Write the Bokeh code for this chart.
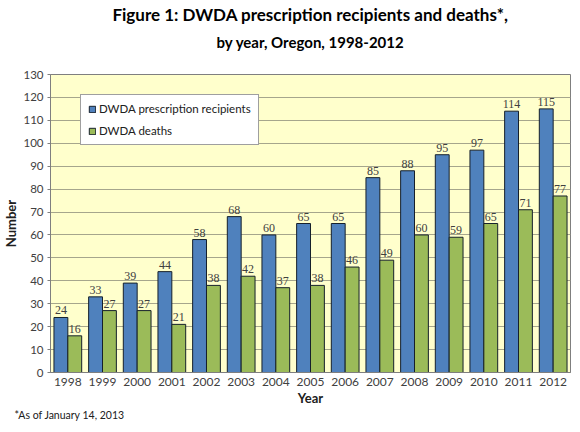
from bokeh.plotting import figure
from bokeh.models import ColumnDataSource, FactorRange, LabelSet, Legend, LegendItem, Title, FixedTicker
from bokeh.transform import dodge
from bokeh.embed import file_html
from bokeh.resources import INLINE

years = ["1998", "1999", "2000", "2001", "2002", "2003", "2004", "2005",
         "2006", "2007", "2008", "2009", "2010", "2011", "2012"]
recipients = [24, 33, 39, 44, 58, 68, 60, 65, 65, 85, 88, 95, 97, 114, 115]
deaths = [16, 27, 27, 21, 38, 42, 37, 38, 46, 49, 60, 59, 65, 71, 77]
y_ticks = list(range(0, 131, 10))

FONT = "Lato"
TXT = "#404040"

src = ColumnDataSource(dict(
    year=years, rec=recipients, dea=deaths,
    rec_lbl=[str(v) for v in recipients], dea_lbl=[str(v) for v in deaths],
))

p = figure(frame_width=520, frame_height=298, x_range=FactorRange(*years, range_padding=0),
           y_range=(0, 130), output_backend="svg", toolbar_location=None,
           min_border_left=0, min_border_right=2, min_border_top=0, min_border_bottom=0)
p.title.text = ""
p.title.visible = False

BW = 0.4
r1 = p.vbar(x=dodge("year", -BW / 2, range=p.x_range), top="rec", width=BW, source=src,
            fill_color="#4F81BD", line_color="#16202B", line_width=1)
r2 = p.vbar(x=dodge("year", BW / 2, range=p.x_range), top="dea", width=BW, source=src,
            fill_color="#9BBB59", line_color="#16202B", line_width=1)

for col, lbl, off in (("rec", "rec_lbl", -BW / 2), ("dea", "dea_lbl", BW / 2)):
    ls = LabelSet(x=dodge("year", off, range=p.x_range), y=col, text=lbl, source=src,
                  text_align="center", text_baseline="bottom", y_offset=3,
                  text_font=FONT, text_font_size="12px", text_color=TXT)
    p.add_layout(ls)

p.background_fill_color = "#FFFFCC"
p.border_fill_color = "white"
p.outline_line_color = "#7F7F7F"
p.outline_line_width = 1

p.xgrid.grid_line_color = None
p.ygrid.grid_line_color = "#A6A68C"
p.ygrid.grid_line_width = 1
p.yaxis.ticker = FixedTicker(ticks=y_ticks)

for ax in (p.xaxis[0], p.yaxis[0]):
    ax.axis_line_color = "#7F7F7F"
    ax.major_label_text_font = FONT
    ax.major_label_text_font_size = "12px"
    ax.major_label_text_color = TXT
    ax.axis_label_text_font = FONT
    ax.axis_label_text_font_style = "bold"
    ax.axis_label_text_font_size = "13px"
    ax.axis_label_text_color = "#202020"
    ax.minor_tick_line_color = None

p.xaxis.major_tick_line_color = None
p.xaxis.major_tick_out = 0
p.xaxis.major_tick_in = 0
p.xaxis.major_label_standoff = 5
p.xaxis.axis_label = "Year"
p.xaxis.axis_label_standoff = 1
p.yaxis.major_label_text_font_size = "11.5px"
p.yaxis.major_tick_line_color = "#7F7F7F"
p.yaxis.major_tick_in = 0
p.yaxis.major_tick_out = 3
p.yaxis.major_label_standoff = 4
p.yaxis.axis_label = "Number"
p.yaxis.axis_label_standoff = 1

legend = Legend(items=[LegendItem(label="DWDA prescription recipients", renderers=[r1]),
                       LegendItem(label="DWDA deaths", renderers=[r2])],
                location=(30, 227), orientation="vertical",
                label_text_font=FONT, label_text_font_size="11.5px", label_text_color="#202020",
                glyph_width=8, glyph_height=8, spacing=9, padding=7, margin=0,
                label_width=136, label_standoff=3,
                border_line_color="#404040", border_line_width=1,
                background_fill_color="white", background_fill_alpha=1)
p.add_layout(legend)

spacer = Title(text=" ", align="center", text_font=FONT, text_font_size="8px", standoff=7)
t2 = Title(text="by year, Oregon, 1998-2012", align="center", text_font=FONT,
           text_font_style="bold", text_font_size="15px", text_color="black", standoff=10,
           offset=-20)
t1 = Title(text="Figure 1: DWDA prescription recipients and deaths*,", align="center",
           text_font=FONT, text_font_style="bold", text_font_size="17px", text_color="black",
           standoff=2, offset=-20)
p.add_layout(spacer, "above")
p.add_layout(t2, "above")
p.add_layout(t1, "above")

foot = Title(text="*As of January 14, 2013", align="left", text_font=FONT,
             text_font_style="normal", text_font_size="10.5px", text_color="#202020",
             offset=-36, standoff=0, vertical_align="top")
p.add_layout(foot, "below")

open("out.html", "w").write(file_html(p, INLINE))
